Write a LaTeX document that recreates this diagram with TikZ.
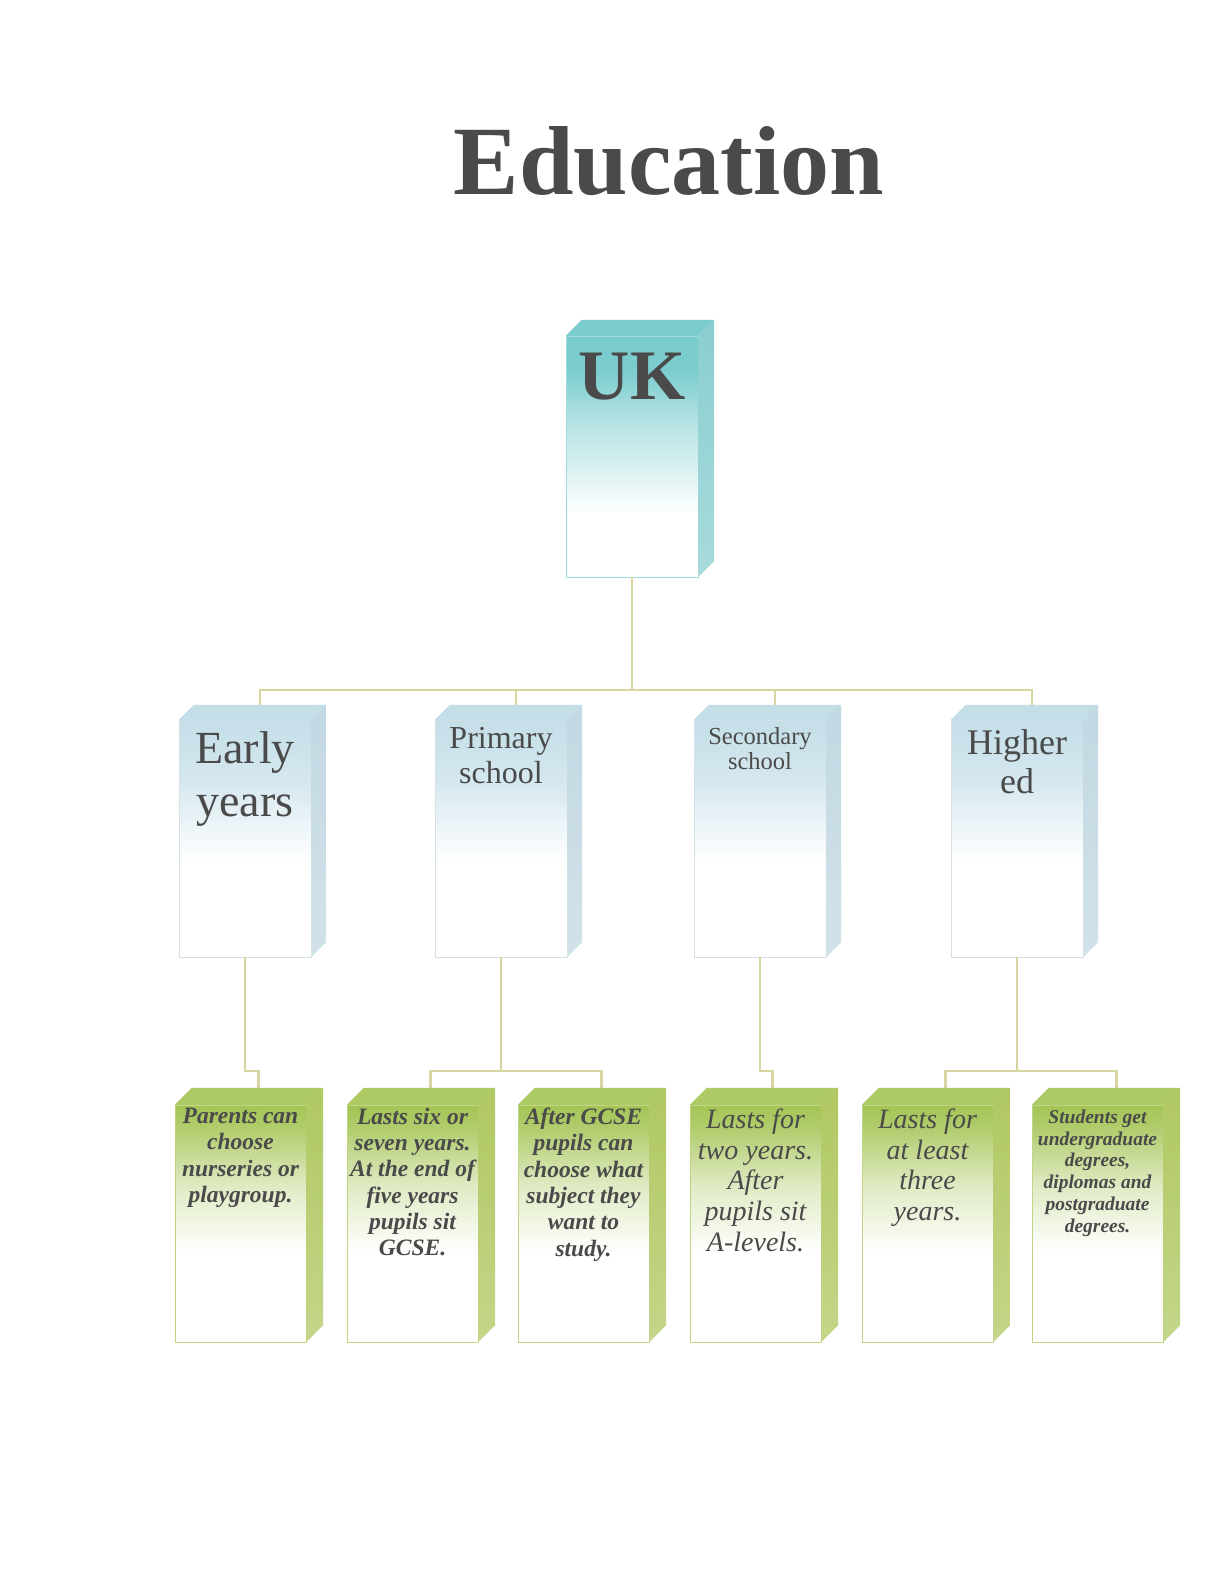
\documentclass[tikz,border=0pt]{standalone}
\usepackage{fontspec}
\setmainfont{Liberation Serif}
\usetikzlibrary{positioning,calc}

\definecolor{ukcyan}{RGB}{122,204,206}
\definecolor{ukside}{RGB}{138,206,208}
\definecolor{lvlblue}{RGB}{196,222,232}
\definecolor{lvlside}{RGB}{194,216,226}
\definecolor{leafgreen}{RGB}{164,196,84}
\definecolor{leafside}{RGB}{176,200,98}
\definecolor{wirecol}{RGB}{216,214,160}
\definecolor{ink}{RGB}{74,74,74}

\pgfdeclareverticalshading{ukfade}{100bp}{color(0bp)=(white); color(38bp)=(white); color(57bp)=(ukcyan!55); color(68bp)=(ukcyan); color(100bp)=(ukcyan)}
\pgfdeclareverticalshading{lvlfade}{100bp}{color(0bp)=(white); color(45bp)=(white); color(62bp)=(lvlblue!70); color(75bp)=(lvlblue); color(100bp)=(lvlblue)}
\pgfdeclareverticalshading{leaffade}{100bp}{color(0bp)=(white); color(44bp)=(white); color(58bp)=(leafgreen!35); color(70bp)=(leafgreen!85); color(75bp)=(leafgreen); color(100bp)=(leafgreen)}

% top and side faces of a box: node, depth, top colour, side colour
\newcommand{\boxfaces}[4]{%
  \fill[#3] (#1.north west) -- ++(#2,-#2) -- ($(#1.north east)+(#2,-#2)$) -- (#1.north east) -- cycle;
  \shade[top color=#4, bottom color=#4!75!white] (#1.north east) -- ++(#2,-#2) -- ($(#1.south east)+(#2,-#2)$) -- (#1.south east) -- cycle;
}

\begin{document}
\begin{tikzpicture}[x=1pt,y=-1pt,
    wire/.style={draw=wirecol,line width=2.8pt},
    ukbox/.style={draw=ukcyan!70!white,shading=ukfade,minimum width=132pt,minimum height=241pt,inner sep=0pt},
    levelbox/.style={draw=lvlblue!80!gray!60,shading=lvlfade,minimum width=132pt,minimum height=237pt,inner sep=0pt},
    leafbox/.style={draw=leafgreen!70!white,shading=leaffade,minimum width=131pt,minimum height=237pt,inner sep=0pt},
    leveltext/.style={align=center,inner sep=0pt,text=ink},
    leaftext/.style={align=center,inner sep=0pt,text=ink,font=\bfseries\itshape\fontsize{23.5}{26.3}\selectfont}]
\useasboundingbox[fill=white] (0,0) rectangle (1230,1586);

\node[anchor=base,text=ink,font=\bfseries\fontsize{98}{110}\selectfont] (title) at (669,195) {Education};

% boxes
\node[ukbox] (uk) at (632,456.5) {};
\node[levelbox] (early) at (245,838.5) {};
\node[levelbox] (primary) at (501,838.5) {};
\node[levelbox] (secondary) at (760,838.5) {};
\node[levelbox] (higher) at (1017,838.5) {};
\node[leafbox] (parents) at (240.5,1223.5) {};
\node[leafbox] (sixyears) at (412.5,1223.5) {};
\node[leafbox] (aftergcse) at (583.5,1223.5) {};
\node[leafbox] (twoyears) at (755.5,1223.5) {};
\node[leafbox] (threeyears) at (927.5,1223.5) {};
\node[leafbox] (degrees) at (1097.5,1223.5) {};

\boxfaces{uk}{16}{ukcyan}{ukside}
\foreach \b in {early,primary,secondary,higher}
  {\boxfaces{\b}{15}{lvlblue}{lvlside}}
\foreach \b in {parents,sixyears,aftergcse,twoyears,threeyears,degrees}
  {\boxfaces{\b}{17}{leafgreen!90!white}{leafside}}

% connectors
\coordinate (bus) at (632,690);
\coordinate (split) at (0,1071);
\draw[wire] (uk.south) -- (bus);
\foreach \b in {early,primary,secondary,higher}
  \draw[wire] (bus) -| ([shift={(15pt,15pt)}]\b.north);
\draw[wire] (early.south) -- (early.south |- split) -| ([shift={(18pt,17pt)}]parents.north);
\draw[wire] (primary.south) -- (primary.south |- split);
\draw[wire] (primary.south |- split) -| ([shift={(18pt,17pt)}]sixyears.north);
\draw[wire] (primary.south |- split) -| ([shift={(18pt,17pt)}]aftergcse.north);
\draw[wire] (secondary.south) -- (secondary.south |- split) -| ([shift={(17pt,17pt)}]twoyears.north);
\draw[wire] (higher.south) -- (higher.south |- split);
\draw[wire] (higher.south |- split) -| ([shift={(18pt,17pt)}]threeyears.north);
\draw[wire] (higher.south |- split) -| ([shift={(19pt,17pt)}]degrees.north);

% texts
\node[leveltext,font=\bfseries\fontsize{71}{80}\selectfont,below=17pt of uk.north] (uktext) {UK};
\node[leveltext,font=\fontsize{46}{53}\selectfont,below=12pt of early.north] (earlytext) {Early\\years};
\node[leveltext,font=\fontsize{32}{35.4}\selectfont,below=7pt of primary.north] (primarytext) {Primary\\school};
\node[leveltext,font=\fontsize{24.5}{25.8}\selectfont,below=7pt of secondary.north] (secondarytext) {Secondary\\school};
\node[leveltext,font=\fontsize{36}{38.5}\selectfont,below=10pt of higher.north] (highertext) {Higher\\ed};

\node[leaftext,below=3pt of parents.north] (parentstext) {Parents can\\choose\\nurseries or\\playgroup.};
\node[leaftext,below=3pt of sixyears.north] (sixyearstext) {Lasts six or\\seven years.\\At the end of\\five years\\pupils sit\\GCSE.};
\node[leaftext,below=3pt of aftergcse.north] (aftergcsetext) {After GCSE\\pupils can\\choose what\\subject they\\want to\\study.};
\node[leaftext,font=\itshape\fontsize{28}{30.6}\selectfont,below=4pt of twoyears.north] (twoyearstext) {Lasts for\\two years.\\After\\pupils sit\\A-levels.};
\node[leaftext,font=\itshape\fontsize{28}{30.6}\selectfont,below=4pt of threeyears.north] (threeyearstext) {Lasts for\\at least\\three\\years.};
\node[leaftext,font=\bfseries\itshape\fontsize{19.5}{21.7}\selectfont,below=5pt of degrees.north] (degreestext) {Students get\\undergraduate\\degrees,\\diplomas and\\postgraduate\\degrees.};
\end{tikzpicture}
\end{document}
